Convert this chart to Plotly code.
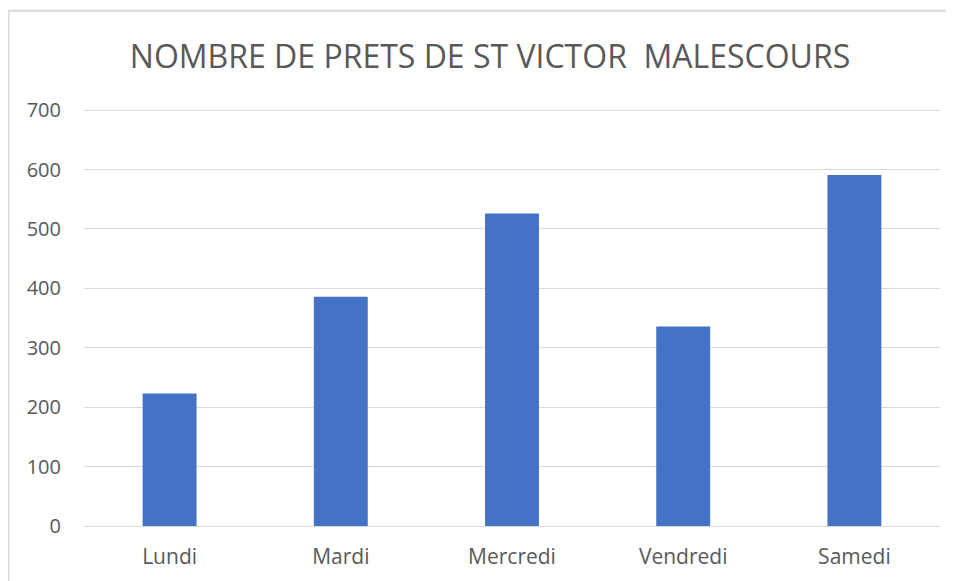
import plotly.graph_objects as go

categories = ["Lundi", "Mardi", "Mercredi", "Vendredi", "Samedi"]
values = [223, 386, 526, 336, 591]
y_ticks = [0, 100, 200, 300, 400, 500, 600, 700]

# The page body adds an 8px offset, so the layout is computed in figure coordinates
OFF = 8
W, H = 954 - OFF, 581 - OFF
plot_left, plot_right = 84 - OFF, 940 - OFF
y0_px, y700_px = 526.5 - OFF, 110 - OFF
ymax = 702
top_px = y0_px - (y0_px - y700_px) * ymax / 700

L = plot_left
R = W - plot_right
T = top_px
B = H - y0_px

fig = go.Figure(go.Bar(x=categories, y=values, marker=dict(color="#4472C4", line=dict(width=0)),
                       hoverinfo="x+y"))

pw = W - L - R
ph = H - T - B


def px_x(px):
    return (px - L) / pw


def px_y(py):
    return (H - B - py) / ph


fig.update_layout(
    width=W, height=H,
    margin=dict(l=L, r=R, t=T, b=B, pad=0, autoexpand=False),
    paper_bgcolor="white", plot_bgcolor="white",
    bargap=0.685,
    font=dict(family="Open Sans, sans-serif", color="#595959"),
    title=dict(text="NOMBRE DE PRETS DE ST VICTOR  MALESCOURS",
               x=(490 - OFF) / W, xref="container", xanchor="center",
               y=1 - (57 - OFF) / H, yref="container", yanchor="middle",
               font=dict(size=32, color="#595959", family="Open Sans, sans-serif")),
    xaxis=dict(showgrid=False, showline=True, linecolor="#d9d9d9", linewidth=1,
               ticks="", tickfont=dict(size=21, color="#595959"), ticklabelstandoff=12),
    yaxis=dict(range=[0, ymax], tickvals=y_ticks, showgrid=True, gridcolor="#d9d9d9",
               gridwidth=1, zeroline=False, showline=False, ticks="",
               tickfont=dict(size=20, color="#595959"), ticklabelstandoff=22),
    shapes=[
        dict(type="line", xref="paper", yref="paper",
             x0=px_x(0.75), x1=px_x(W + 5), y0=px_y(2.5), y1=px_y(2.5),
             line=dict(color="#d9d9d9", width=2)),
        dict(type="line", xref="paper", yref="paper",
             x0=px_x(0.75), x1=px_x(0.75), y0=px_y(2), y1=px_y(H + 5),
             line=dict(color="#d9d9d9", width=1.5)),
    ],
    showlegend=False,
)

fig.write_html("out.html")
